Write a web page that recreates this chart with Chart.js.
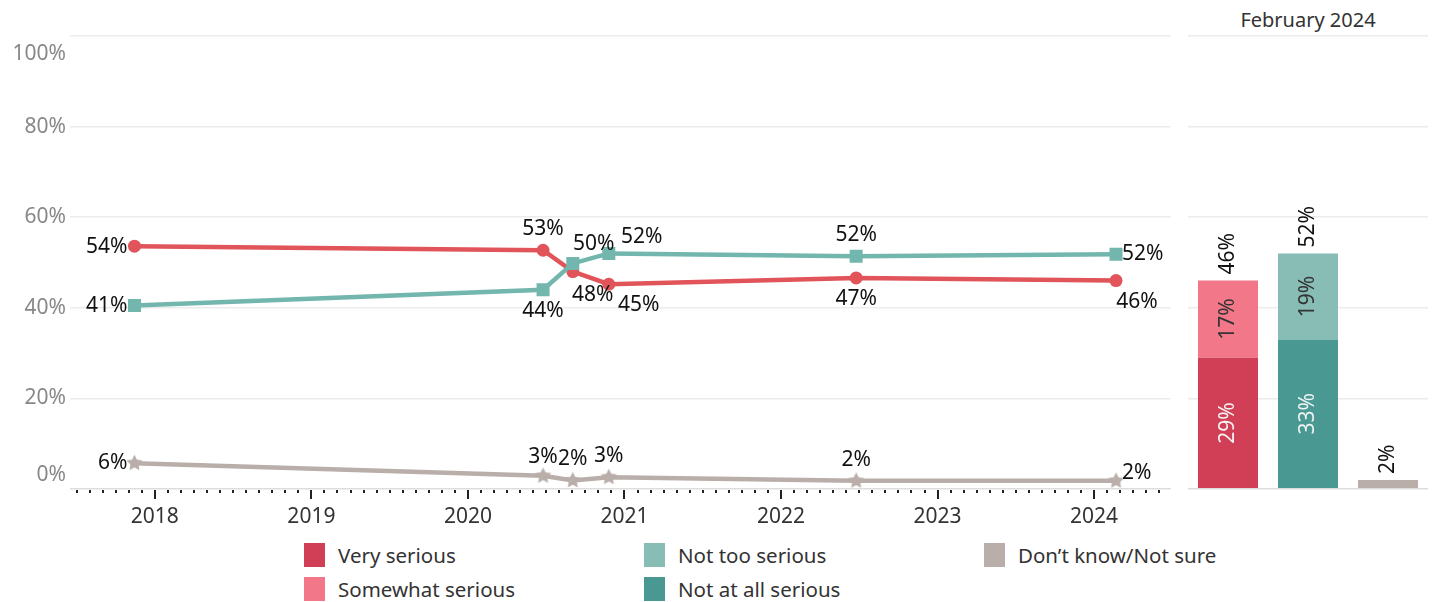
<!DOCTYPE html>
<html>
<head>
<meta charset="utf-8">
<script src="https://cdn.jsdelivr.net/npm/chart.js@4"></script>
<style>
  body { margin: 0; background: #fff; font-family: "Noto Sans", sans-serif; }
  #wrap { position: relative; width: 1437px; height: 602px; overflow: hidden; }
  #line-box { position: absolute; left: 0; top: 0; width: 1180px; height: 530px; }
  #bar-box { position: absolute; left: 1180px; top: 0; width: 257px; height: 530px; }
  #bar-title { position: absolute; left: 1188px; width: 240px; top: 6px; text-align: center; font-size: 20px; color: #333; }
  .leg { position: absolute; font-size: 20.5px; color: #333; line-height: 24px; }
  .leg i { position: absolute; left: 0; top: 0; width: 21px; height: 24px; }
  .leg span { position: absolute; left: 34px; top: 0px; white-space: nowrap; }
</style>
</head>
<body>
<div id="wrap">
  <div id="line-box"><canvas id="line-chart"></canvas></div>
  <div id="bar-title">February 2024</div>
  <div id="bar-box"><canvas id="bar-chart"></canvas></div>
  <div id="legend"></div>
</div>
<script>
/** Survey dates as decimal years */
const surveyDates = [2017.87, 2020.48, 2020.67, 2020.9, 2022.48, 2024.14];
/** Very/somewhat serious combined */
const seriousValues = [53.6, 52.7, 48, 45.2, 46.6, 46];
/** Not too/not at all serious combined */
const notSeriousValues = [40.5, 44, 49.8, 52, 51.4, 51.8];
/** Don't know */
const dontKnowValues = [5.7, 2.9, 1.9, 2.6, 1.8, 1.8];
const seriousLabels = ['54%', '53%', '48%', '45%', '47%', '46%'];
const notSeriousLabels = ['41%', '44%', '50%', '52%', '52%', '52%'];
const dontKnowLabels = ['6%', '3%', '2%', '3%', '2%', '2%'];
const yearTicks = [2018, 2019, 2020, 2021, 2022, 2023, 2024];
const yTicks = [0, 20, 40, 60, 80, 100];

/** February 2024 breakdown */
const barCategories = ['Serious', 'Not serious', 'Not sure'];
const verySerious = [29, null, null];
const somewhatSerious = [17, null, null];
const notAtAllSerious = [null, 33, null];
const notTooSerious = [null, 19, null];
const dontKnowBar = [null, null, 2];
const barTotals = ['46%', '52%', '2%'];

const legendItems = [
  ['Very serious', '#d03f55'], ['Not too serious', '#88bdb5'], ['Don\u2019t know/Not sure', '#b9aea9'],
  ['Somewhat serious', '#f27789'], ['Not at all serious', '#4a9892'],
];

// label placement: [side, dx, dy]; 'l' = left of point, 'r' = right of point, 'c' = centred at dx
const seriousOffsets = [['l', 0, 1], ['c', 0, -21], ['c', 20, 23], ['c', 30, 21], ['c', 0, 21], ['c', 21, 21]];
const notSeriousOffsets = [['l', 0, 0], ['c', 0, 21], ['c', 21, -19], ['c', 33, -16], ['c', 0, -21], ['r', 0, 0]];
const dontKnowOffsets = [['l', 0, 0], ['c', 0, -19], ['c', 0, -21], ['c', 0, -21], ['c', 0, -21], ['r', 0, -8]];

const FONT = '"Noto Sans", sans-serif';

// filled star marker for the don't know series
const makeStar = (color, r) => {
  const c = document.createElement('canvas');
  c.width = c.height = r * 2 + 2;
  const ctx = c.getContext('2d');
  ctx.fillStyle = color;
  ctx.beginPath();
  for (let i = 0; i < 10; i++) {
    const rad = i % 2 ? r * 0.5 : r;
    const a = -Math.PI / 2 + i * Math.PI / 5;
    ctx.lineTo(r + 1 + rad * Math.cos(a), r + 1 + rad * Math.sin(a));
  }
  ctx.closePath();
  ctx.fill();
  return c;
};

const toPoints = (vals) => vals.map((v, i) => ({x: surveyDates[i], y: v}));

/** Draws axis, ticks, y labels and point labels for the line chart */
const lineDecor = {
  id: 'lineDecor',
  afterDraw(chart) {
    const {ctx, scales: {x, y}, chartArea} = chart;
    const base = y.getPixelForValue(0);
    ctx.save();
    ctx.fillStyle = '#ddd';
    ctx.fillRect(chartArea.left, base - 1, chartArea.right - chartArea.left, 1.5);
    // monthly dots and yearly ticks
    ctx.fillStyle = '#222';
    for (let m = 0; m <= 83; m++) {
      const v = 2017.5 + m / 12;
      const px = Math.round(x.getPixelForValue(v));
      if (m % 12 === 6) {
        ctx.fillRect(px - 1, base + 1, 2, 9);
      } else {
        ctx.fillRect(px - 1, base + 1, 2, 3);
      }
    }
    ctx.font = `21px ${FONT}`;
    ctx.textAlign = 'center';
    ctx.textBaseline = 'middle';
    ctx.fillStyle = '#333';
    yearTicks.forEach(yr => ctx.fillText(String(yr), x.getPixelForValue(yr), 517));
    ctx.textAlign = 'right';
    ctx.fillStyle = '#888';
    yTicks.forEach(t => {
      let py = y.getPixelForValue(t);
      if (t === 100) py += 18;
      if (t === 0) py -= 14;
      ctx.fillText(t + '%', 66, py);
    });
    // point labels
    ctx.fillStyle = '#111';
    const sets = [[notSeriousLabels, notSeriousOffsets, 0], [seriousLabels, seriousOffsets, 1], [dontKnowLabels, dontKnowOffsets, 2]];
    sets.forEach(([labels, offsets, di]) => {
      const meta = chart.getDatasetMeta(di);
      meta.data.forEach((pt, i) => {
        const [side, dx, dy] = offsets[i];
        let tx = pt.x + dx;
        ctx.textAlign = 'center';
        if (side === 'l') { ctx.textAlign = 'right'; tx = pt.x - 7; }
        if (side === 'r') { ctx.textAlign = 'left'; tx = pt.x + 6; }
        ctx.fillText(labels[i], tx, pt.y + dy);
      });
    });
    ctx.restore();
  }
};

new Chart(document.getElementById('line-chart'), {
  type: 'scatter',
  data: {
    datasets: [
      {
        data: toPoints(notSeriousValues), showLine: true, borderColor: '#72b6ad', backgroundColor: '#72b6ad',
        borderWidth: 4.5, pointStyle: 'rect', pointRadius: 9.2, pointBorderWidth: 0,
      },
      {
        data: toPoints(seriousValues), showLine: true, borderColor: '#e0545a', backgroundColor: '#e0545a',
        borderWidth: 4.5, pointStyle: 'circle', pointRadius: 6.5, pointBorderWidth: 0,
      },
      {
        data: toPoints(dontKnowValues), showLine: true, borderColor: '#b9aea9', backgroundColor: '#b9aea9',
        borderWidth: 4.5, pointStyle: makeStar('#b9aea9', 8.5), pointBorderWidth: 0,
      },
    ]
  },
  options: {
    responsive: true,
    maintainAspectRatio: false,
    animation: false,
    layout: {padding: {left: 70, right: 7, top: 36, bottom: 41}},
    scales: {
      x: {type: 'linear', min: 2017.458, max: 2024.49, display: false},
      y: {
        min: 0, max: 100,
        border: {display: false},
        grid: {color: (c) => c.tick.value === 0 ? 'rgba(0,0,0,0)' : '#ececec', lineWidth: 1.5, drawTicks: false},
        ticks: {display: false, stepSize: 20},
      },
    },
    plugins: {legend: {display: false}, tooltip: {enabled: false}},
  },
  plugins: [lineDecor],
});

/** Rotated labels in and above the bars */
const barDecor = {
  id: 'barDecor',
  afterDraw(chart) {
    const {ctx, scales: {y}, chartArea} = chart;
    ctx.save();
    ctx.fillStyle = '#ddd';
    ctx.fillRect(chartArea.left, y.getPixelForValue(0) - 1, chartArea.right - chartArea.left, 1.5);
    ctx.font = `21px ${FONT}`;
    ctx.textBaseline = 'middle';
    const tops = [Infinity, Infinity, Infinity];
    chart.data.datasets.forEach((ds, di) => {
      const meta = chart.getDatasetMeta(di);
      meta.data.forEach((bar, i) => {
        const v = ds.data[i];
        if (v == null) return;
        tops[i] = Math.min(tops[i], bar.y);
        if (!ds.inner) return;
        ctx.save();
        ctx.translate(bar.x, (bar.y + bar.base) / 2);
        ctx.rotate(-Math.PI / 2);
        ctx.textAlign = 'center';
        ctx.fillStyle = ds.inner;
        ctx.fillText(v + '%', 0, 0);
        ctx.restore();
      });
    });
    chart.getDatasetMeta(0).data.forEach((bar, i) => {
      ctx.save();
      ctx.translate(bar.x, tops[i] - 6);
      ctx.rotate(-Math.PI / 2);
      ctx.textAlign = 'left';
      ctx.fillStyle = '#111';
      ctx.fillText(barTotals[i], 0, 0);
      ctx.restore();
    });
    ctx.restore();
  }
};

new Chart(document.getElementById('bar-chart'), {
  type: 'bar',
  data: {
    labels: barCategories,
    datasets: [
      {data: verySerious, backgroundColor: '#d03f55', inner: '#f4f4f4'},
      {data: somewhatSerious, backgroundColor: '#f27789', inner: '#333'},
      {data: notAtAllSerious, backgroundColor: '#4a9892', inner: '#eef4f3'},
      {data: notTooSerious, backgroundColor: '#88bdb5', inner: '#333'},
      {data: dontKnowBar, backgroundColor: '#b9aea9'},
    ].map(d => ({...d, barPercentage: 0.75, categoryPercentage: 1, borderWidth: 0}))
  },
  options: {
    responsive: true,
    maintainAspectRatio: false,
    animation: false,
    layout: {padding: {left: 8, right: 9, top: 36, bottom: 41}},
    scales: {
      x: {stacked: true, display: false},
      y: {
        stacked: true, min: 0, max: 100,
        border: {display: false},
        grid: {color: (c) => c.tick.value === 0 ? 'rgba(0,0,0,0)' : '#ececec', lineWidth: 1.5, drawTicks: false},
        ticks: {display: false, stepSize: 20},
      },
    },
    plugins: {legend: {display: false}, tooltip: {enabled: false}},
  },
  plugins: [barDecor],
});

// legend
const legendPos = [[304, 543], [644, 543], [984, 543], [304, 577], [644, 577]];
document.getElementById('legend').innerHTML = legendItems.map((item, i) =>
  `<div class="leg" style="left:${legendPos[i][0]}px;top:${legendPos[i][1]}px"><i style="background:${item[1]}"></i><span>${item[0]}</span></div>`
).join('');
</script>
</body>
</html>
